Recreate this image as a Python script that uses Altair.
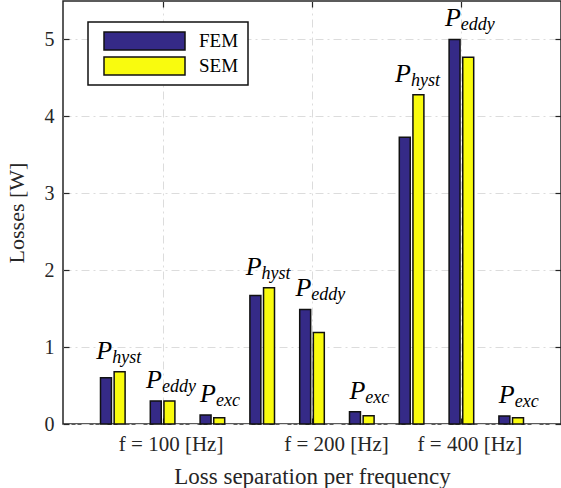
import altair as alt
import pandas as pd

# ---------------- data ----------------
loss_types = ["hyst", "eddy", "exc"]
frequencies = ["f = 100 [Hz]", "f = 200 [Hz]", "f = 400 [Hz]"]
methods = ["FEM", "SEM"]
fem_losses = [0.60, 0.30, 0.117, 1.67, 1.49, 0.16, 3.73, 5.00, 0.104]
sem_losses = [0.68, 0.30, 0.082, 1.77, 1.19, 0.108, 4.28, 4.77, 0.082]
y_ticks = [0, 1, 2, 3, 4, 5]
y_max = 5.5

# ---------------- layout / style ----------------
W, H = 498, 423
font = "Liberation Serif"
ink = "#262626"
edge = "#111111"
colors = ["#352a87", "#f9fb0e"]
grid_dash = [8, 4, 2, 4]

n_groups = len(fem_losses)
x_max = n_groups + 1
ppu = W / x_max
bar_half = 0.11
bar_shift = 0.137

rows = []
for i, (f, s) in enumerate(zip(fem_losses, sem_losses)):
    g = i + 1
    for m, v, sh in ((methods[0], f, -bar_shift), (methods[1], s, bar_shift)):
        rows.append(dict(group=g, method=m, value=v,
                         x0=g + sh - bar_half, x1=g + sh + bar_half))
bars_df = pd.DataFrame(rows)

p_w = 16.0          # approx width of italic "P" at 26px
sub_char = 8.3      # approx width per subscript char at 18px
lab_rows = []
for i, (f, s) in enumerate(zip(fem_losses, sem_losses)):
    g = i + 1
    sub = loss_types[i % len(loss_types)]
    sw = sub_char * len(sub)
    cx = g + 0.16
    jx = cx + (p_w / 2 - sw / 2) / ppu
    lab_rows.append(dict(group=g, sub=sub, top=max(f, s), jx=jx))
lab_df = pd.DataFrame(lab_rows)

x_tick_vals = [3 * k + 2 for k in range(len(frequencies))]
label_expr = " : ".join(
    f"datum.value == {v} ? '{t}'" for v, t in zip(x_tick_vals, frequencies)
) + " : ''"

x_scale = alt.Scale(domain=[0, x_max], nice=False, zero=False)
y_scale = alt.Scale(domain=[0, y_max], nice=False, zero=True)

bars = alt.Chart(bars_df).mark_bar(stroke=edge, strokeWidth=1.5, opacity=1).encode(
    x=alt.X("x0:Q", scale=x_scale, axis=alt.Axis(
        orient="bottom", values=x_tick_vals, labelExpr=label_expr,
        title="Loss separation per frequency", titleFont=font, titleFontSize=23,
        titleFontWeight="normal", titleColor=ink, titlePadding=11,
        labelFont=font, labelFontSize=21, labelColor=ink, labelPadding=9,
        labelOffset={"condition": {"test": "datum.value == 5", "value": 24}, "value": 8},
        tickSize=0, domain=False, grid=True, gridDash=grid_dash,
        gridColor="#dcdcdc", gridWidth=1)),
    x2="x1:Q",
    y=alt.Y("value:Q", scale=y_scale, axis=alt.Axis(
        orient="left", values=y_ticks, format="d",
        title="Losses [W]", titleFont=font, titleFontSize=22,
        titleFontWeight="normal", titleColor=ink, titlePadding=16,
        labelFont=font, labelFontSize=20, labelColor=ink, labelPadding=9,
        tickSize=0, domain=False, grid=True, gridDash=grid_dash,
        gridColor="#dcdcdc", gridWidth=1)),
    y2=alt.datum(0),
    color=alt.Color("method:N", scale=alt.Scale(domain=methods, range=colors),
                    legend=alt.Legend(
                        title=None, orient="none", legendX=25, legendY=21,
                        symbolType="M-1,-0.22L1,-0.22L1,0.22L-1,0.22Z",
                        symbolSize=6561, symbolStrokeColor=edge,
                        symbolStrokeWidth=1.5, symbolOpacity=1,
                        symbolOffset=6, clipHeight=20,
                        labelFont=font, labelFontSize=19, labelColor="black",
                        labelOffset=13, rowPadding=5, padding=9,
                        strokeColor=edge, fillColor="white", cornerRadius=0)),
)

p_text = alt.Chart(lab_df).mark_text(
    text="P", font=font, fontSize=26, fontStyle="italic", align="right",
    baseline="alphabetic", dy=-13, color="black").encode(
    x=alt.X("jx:Q", scale=x_scale, axis=None),
    y=alt.Y("top:Q", scale=y_scale, axis=None),
)

sub_text = alt.Chart(lab_df).mark_text(
    font=font, fontSize=18, fontStyle="italic", align="left",
    baseline="alphabetic", dy=-9, color="black").encode(
    x=alt.X("jx:Q", scale=x_scale, axis=None),
    y=alt.Y("top:Q", scale=y_scale, axis=None),
    text="sub:N",
)

tick_style = dict(labels=False, title=None, grid=False, domain=False,
                  tickSize=6, tickColor=ink, tickWidth=1.2)

ticks_a = alt.Chart(bars_df).mark_point(opacity=0).encode(
    x=alt.X("x0:Q", scale=x_scale, axis=alt.Axis(orient="top", offset=-H,
                                                  values=x_tick_vals, **tick_style)),
    y=alt.Y("value:Q", scale=y_scale, axis=alt.Axis(orient="right", offset=-W,
                                                     values=y_ticks, **tick_style)),
)
ticks_b = alt.Chart(bars_df).mark_point(opacity=0).encode(
    x=alt.X("x0:Q", scale=x_scale, axis=alt.Axis(orient="bottom", offset=-H,
                                                  values=x_tick_vals, **tick_style)),
    y=alt.Y("value:Q", scale=y_scale, axis=alt.Axis(orient="left", offset=-W,
                                                     values=y_ticks, **tick_style)),
)

chart = alt.layer(bars, p_text, sub_text, ticks_a, ticks_b).resolve_scale(
    x="independent", y="independent"
).properties(
    width=W, height=H,
    autosize=alt.AutoSizeParams(type="none"),
    padding={"left": 63, "top": 1, "right": 0, "bottom": 64},
    background="white",
).configure_view(stroke=ink, strokeWidth=1.5).configure_legend(strokeWidth=1.5)

chart.save("out.html", embed_options={"renderer": "svg", "actions": False})
